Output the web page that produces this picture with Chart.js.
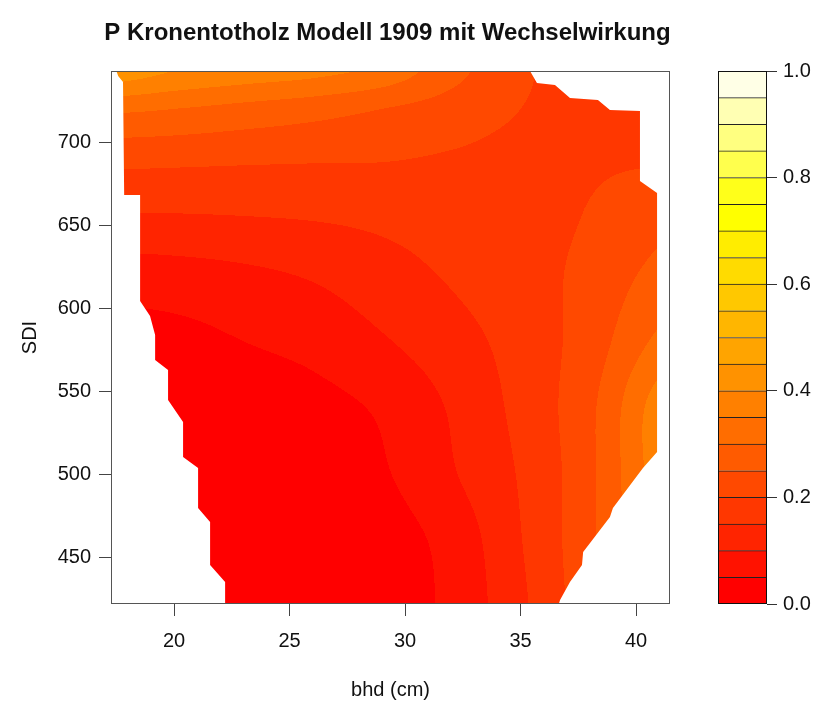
<!DOCTYPE html>
<html>
<head>
<meta charset="utf-8">
<script src="https://cdn.jsdelivr.net/npm/chart.js@4.4.0/dist/chart.umd.min.js"></script>
<style>
  html, body { margin: 0; padding: 0; background: #fff; }
  #wrap { position: relative; width: 826px; height: 705px; }
  #wrap canvas { position: absolute; left: 0; top: 0; }
</style>
</head>
<body>
<div id="wrap">
  <canvas id="plot" width="826" height="705"></canvas>
  <canvas id="key" width="826" height="705"></canvas>
</div>
<script>
const titleText = 'P Kronentotholz Modell 1909 mit Wechselwirkung';

// grid of the fitted probability
const bhdGrid = [17.3, 20, 23, 26, 29, 32, 35, 38, 41.5];
const sdiGrid = [420, 460, 500, 540, 580, 620, 660, 690, 720, 745];
const pGrid = [
  [0.005, 0.008, 0.012, 0.018, 0.024, 0.062, 0.140, 0.235, 0.340], // 420
  [0.008, 0.010, 0.015, 0.022, 0.028, 0.068, 0.148, 0.240, 0.370], // 460
  [0.012, 0.015, 0.020, 0.030, 0.045, 0.095, 0.155, 0.240, 0.390], // 500
  [0.018, 0.022, 0.028, 0.036, 0.057, 0.105, 0.165, 0.240, 0.390], // 540
  [0.030, 0.035, 0.050, 0.065, 0.095, 0.130, 0.170, 0.225, 0.320], // 580
  [0.075, 0.080, 0.090, 0.105, 0.130, 0.155, 0.180, 0.215, 0.270], // 620
  [0.155, 0.155, 0.157, 0.160, 0.165, 0.172, 0.182, 0.202, 0.235], // 660
  [0.215, 0.212, 0.208, 0.205, 0.203, 0.195, 0.187, 0.193, 0.195], // 690
  [0.310, 0.300, 0.285, 0.270, 0.250, 0.228, 0.200, 0.180, 0.170], // 720
  [0.440, 0.405, 0.385, 0.370, 0.340, 0.270, 0.210, 0.175, 0.160]  // 745
];

// outline of the area that has data
const hullBhd = [17.45, 17.58, 17.79, 17.84, 18.53, 18.53, 18.96, 19.18, 19.18, 19.74, 19.74, 20.39, 20.39,
  21.04, 21.04, 21.56, 21.56, 22.21, 22.21, 36.62, 36.71, 37.14, 37.66, 37.71, 38.87, 39.0, 40.30, 40.91,
  40.91, 40.17, 40.17, 38.87, 38.35, 37.14, 36.49, 35.71, 35.32];
const hullSdi = [745, 739.8, 736.1, 668.1, 668.1, 604.2, 595.2, 583.7, 568.7, 562.7, 544.6, 531.3, 510.2,
  503.6, 479.5, 471.1, 445.2, 434.9, 420, 420, 424.1, 434.9, 445.2, 453.0, 474.1, 479.5, 503.6, 513.3,
  669.3, 676.5, 718.7, 719.3, 725.3, 726.5, 734.3, 735.5, 745];

const levels = [0, 0.05, 0.1, 0.15, 0.2, 0.25, 0.3, 0.35, 0.4, 0.45, 0.5,
  0.55, 0.6, 0.65, 0.7, 0.75, 0.8, 0.85, 0.9, 0.95, 1];
const levelColors = ['#FF0000', '#FF1200', '#FF2400', '#FF3700', '#FF4900', '#FF5B00', '#FF6D00',
  '#FF8000', '#FF9200', '#FFA400', '#FFB600', '#FFC800', '#FFDB00', '#FFED00', '#FFFF00',
  '#FFFF1A', '#FFFF4D', '#FFFF80', '#FFFFB3', '#FFFFE6'];

const xTicks = [20, 25, 30, 35, 40];
const yTicks = [450, 500, 550, 600, 650, 700];
const keyTicks = [0, 0.2, 0.4, 0.6, 0.8, 1];

const fontFamily = '"Liberation Sans", Arial, Helvetica, sans-serif';
const textColor = '#111';

function findCell(grid, v) {
  let i = 0;
  while (i < grid.length - 2 && v > grid[i + 1]) i++;
  const t = (v - grid[i]) / (grid[i + 1] - grid[i]);
  return [i, Math.max(0, Math.min(1, t))];
}

// smooth (Catmull-Rom) reading of the grid between nodes
function cubic(p0, p1, p2, p3, t) {
  return 0.5 * (2 * p1 + (p2 - p0) * t + (2 * p0 - 5 * p1 + 4 * p2 - p3) * t * t + (3 * p1 - p0 - 3 * p2 + p3) * t * t * t);
}

function pAt(bhd, sdi) {
  const [i, tx] = findCell(bhdGrid, bhd);
  const [j, ty] = findCell(sdiGrid, sdi);
  const nx = bhdGrid.length - 1, ny = sdiGrid.length - 1;
  const rows = [];
  for (let dj = -1; dj <= 2; dj++) {
    const row = pGrid[Math.max(0, Math.min(ny, j + dj))];
    const c = [-1, 0, 1, 2].map(di => row[Math.max(0, Math.min(nx, i + di))]);
    rows.push(cubic(c[0], c[1], c[2], c[3], tx));
  }
  return cubic(rows[0], rows[1], rows[2], rows[3], ty);
}

function bandOf(z) {
  for (let k = 0; k < levelColors.length; k++) {
    if (z < levels[k + 1]) return k;
  }
  return levelColors.length - 1;
}

const contourFill = {
  id: 'contourFill',
  beforeDatasetsDraw(chart) {
    const { ctx, chartArea: a, scales: { x, y } } = chart;
    const w = Math.round(a.right - a.left), h = Math.round(a.bottom - a.top);
    const off = document.createElement('canvas');
    off.width = w; off.height = h;
    const octx = off.getContext('2d');
    const img = octx.createImageData(w, h);
    const rgb = levelColors.map(c => [parseInt(c.slice(1, 3), 16), parseInt(c.slice(3, 5), 16), parseInt(c.slice(5, 7), 16)]);
    for (let r = 0; r < h; r++) {
      const sdi = y.getValueForPixel(a.top + r + 0.5);
      for (let q = 0; q < w; q++) {
        const bhd = x.getValueForPixel(a.left + q + 0.5);
        const col = rgb[bandOf(pAt(bhd, sdi))];
        const n = (r * w + q) * 4;
        img.data[n] = col[0]; img.data[n + 1] = col[1]; img.data[n + 2] = col[2]; img.data[n + 3] = 255;
      }
    }
    octx.putImageData(img, 0, 0);

    ctx.save();
    ctx.beginPath();
    ctx.rect(a.left, a.top, a.right - a.left, a.bottom - a.top);
    ctx.clip();
    ctx.beginPath();
    hullBhd.forEach((b, n) => {
      const px = x.getPixelForValue(b), py = y.getPixelForValue(hullSdi[n]);
      if (n === 0) ctx.moveTo(px, py); else ctx.lineTo(px, py);
    });
    ctx.closePath();
    ctx.clip();
    ctx.drawImage(off, a.left, a.top);
    ctx.restore();
  },
  afterDraw(chart) {
    const { ctx, chartArea: a } = chart;
    ctx.save();
    ctx.strokeStyle = '#555';
    ctx.lineWidth = 1;
    ctx.strokeRect(Math.round(a.left) + 0.5, Math.round(a.top) + 0.5, Math.round(a.right - a.left) - 1, Math.round(a.bottom - a.top) - 1);
    ctx.fillStyle = textColor;
    ctx.font = 'bold 24px ' + fontFamily;
    ctx.textAlign = 'center';
    ctx.textBaseline = 'middle';
    ctx.fillText(titleText, (a.left + a.right) / 2 - 3, 33);
    ctx.restore();
  }
};

new Chart(document.getElementById('plot'), {
  type: 'scatter',
  data: { datasets: [] },
  options: {
    responsive: false,
    animation: false,
    layout: { padding: { left: 0, top: 71, right: 826 - 670, bottom: 0 } },
    plugins: { legend: { display: false }, tooltip: { enabled: false } },
    scales: {
      x: {
        type: 'linear', min: 17.27, max: 41.47,
        afterBuildTicks: s => { s.ticks = xTicks.map(v => ({ value: v })); },
        afterFit: s => { s.height = 101; },
        grid: { drawOnChartArea: false, drawTicks: true, tickLength: 12, tickColor: '#444' },
        border: { display: false },
        ticks: { padding: 13, color: textColor, font: { family: fontFamily, size: 20 } },
        title: { display: true, text: 'bhd (cm)', color: textColor, padding: { top: 0, bottom: 3 }, font: { family: fontFamily, size: 20 } }
      },
      y: {
        type: 'linear', min: 421.7, max: 742.8,
        afterBuildTicks: s => { s.ticks = yTicks.map(v => ({ value: v })); },
        afterFit: s => { s.width = 111; },
        grid: { drawOnChartArea: false, drawTicks: true, tickLength: 12, tickColor: '#444' },
        border: { display: false },
        ticks: { padding: 8, color: textColor, font: { family: fontFamily, size: 20 } },
        title: { display: true, text: 'SDI', color: textColor, padding: { top: 18, bottom: 0 }, font: { family: fontFamily, size: 20 } }
      }
    }
  },
  plugins: [contourFill]
});

const keyBox = {
  id: 'keyBox',
  afterDraw(chart) {
    const { ctx, chartArea: a } = chart;
    ctx.save();
    ctx.strokeStyle = '#111';
    ctx.lineWidth = 1;
    ctx.strokeRect(Math.round(a.left) + 0.5, Math.round(a.top) + 0.5, Math.round(a.right - a.left) - 1, Math.round(a.bottom - a.top) - 1);
    ctx.restore();
  }
};

new Chart(document.getElementById('key'), {
  type: 'bar',
  data: {
    labels: [''],
    datasets: levelColors.map((c, k) => ({
      data: [[levels[k], levels[k + 1]]],
      backgroundColor: c,
      borderColor: '#222',
      borderWidth: { top: 1, bottom: 0, left: 0, right: 0 },
      borderSkipped: false,
      barPercentage: 1,
      categoryPercentage: 1
    }))
  },
  options: {
    responsive: false,
    animation: false,
    layout: { padding: { left: 718, top: 71, right: 0, bottom: 101 } },
    plugins: { legend: { display: false }, tooltip: { enabled: false } },
    scales: {
      x: { display: false, stacked: true },
      y: {
        position: 'right', min: 0, max: 1,
        afterBuildTicks: s => { s.ticks = keyTicks.map(v => ({ value: v })); },
        afterFit: s => { s.width = 826 - 767; },
        grid: { drawOnChartArea: false, drawTicks: true, tickLength: 10, tickColor: '#333' },
        border: { display: false },
        ticks: { padding: 6, color: textColor, font: { family: fontFamily, size: 20 }, callback: v => v.toFixed(1) }
      }
    }
  },
  plugins: [keyBox]
});
</script>
</body>
</html>
